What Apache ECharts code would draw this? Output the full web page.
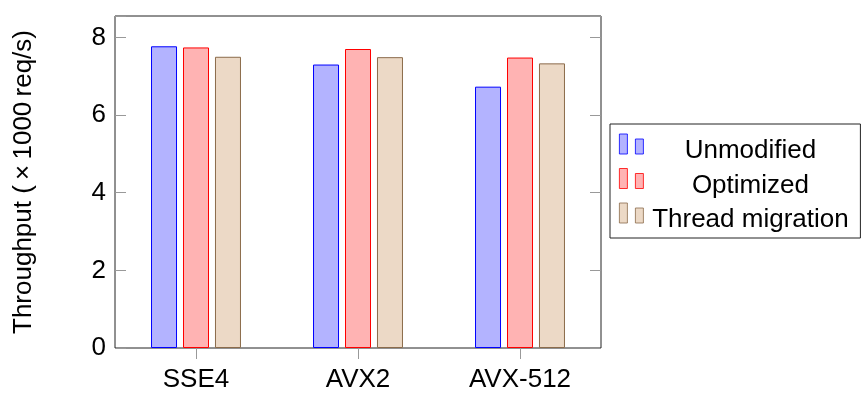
<!DOCTYPE html>
<html>
<head>
<meta charset="utf-8">
<script src="https://cdn.jsdelivr.net/npm/echarts@6/dist/echarts.min.js"></script>
<style>
html,body{margin:0;padding:0;background:#fff;}
#chart{width:862px;height:393px;}
</style>
</head>
<body>
<div id="chart"></div>
<script>
const categories = ['SSE4', 'AVX2', 'AVX-512'];
const seriesNames = ['Unmodified', 'Optimized', 'Thread migration'];
const unmodified = [7.77, 7.30, 6.73];
const optimized = [7.74, 7.70, 7.48];
const threadMigration = [7.50, 7.49, 7.33];
const yTicks = [0, 2, 4, 6, 8];

const FONT = 'Liberation Sans, Arial, Helvetica, sans-serif';
const FS = 26;

const fills = ['#b3b3ff', '#ffb3b3', '#ecd9c6'];
const strokes = ['#0000ff', '#ff0000', '#8b6b4b'];
const values = [unmodified, optimized, threadMigration];

const chart = echarts.init(document.getElementById('chart'), null, {renderer: 'canvas'});

const yAxisCommon = {
  type: 'value', min: 0, max: 8.55, interval: 2,
  splitLine: {show: false},
  axisLine: {show: false},
  axisTick: {show: true, inside: true, length: 11, lineStyle: {color: '#999', width: 1}}
};

const option = {
  animation: false,
  textStyle: {fontFamily: FONT},
  grid: {left: 115, right: 261, top: 16, bottom: 42, show: true, borderColor: '#222', borderWidth: 1, backgroundColor: 'transparent'},
  legend: {
    orient: 'vertical',
    left: 610, top: 124,
    padding: [0, 8, 5, 9],
    itemWidth: 24, itemHeight: 20, itemGap: -5.5,
    borderColor: '#222', borderWidth: 1,
    icon: 'path://M0,0h8v20h-8z M16,5h8v15h-8z',
    itemStyle: {borderWidth: 0.8},
    formatter: function (name) { return '{a|' + name + '}'; },
    textStyle: {
      fontFamily: FONT, fontSize: FS, color: '#000',
      rich: {a: {fontFamily: FONT, fontSize: FS, color: '#000', width: 204, align: 'center', lineHeight: 26, padding: [14, 0, 0, 0]}}
    },
    data: seriesNames
  },
  xAxis: [
    {
      type: 'category', data: categories, position: 'bottom',
      axisLine: {show: false},
      axisTick: {show: true, alignWithLabel: true, inside: false, length: 11, lineStyle: {color: '#999', width: 1}},
      axisLabel: {fontFamily: FONT, fontSize: FS, color: '#000', margin: 19}
    },
    {
      type: 'category', data: categories, position: 'top',
      axisLine: {show: false},
      axisTick: {show: true, alignWithLabel: true, inside: false, length: 11, lineStyle: {color: '#999', width: 1}},
      axisLabel: {show: false}
    }
  ],
  yAxis: [
    Object.assign({}, yAxisCommon, {
      position: 'left',
      name: 'Throughput (\u2009×\u20091000\u2009req/s)',
      nameLocation: 'middle', nameGap: 78,
      nameTextStyle: {fontFamily: FONT, fontSize: FS, color: '#000'},
      axisLabel: {
        fontFamily: FONT, fontSize: FS, color: '#000', margin: 9, showMaxLabel: true,
        formatter: function (v) { return yTicks.indexOf(v) >= 0 ? String(v) : ''; }
      }
    }),
    Object.assign({}, yAxisCommon, {position: 'right', axisLabel: {show: false}})
  ],
  series: seriesNames.map(function (name, i) {
    return {
      name: name, type: 'bar', xAxisIndex: 0, yAxisIndex: 0,
      data: values[i], barWidth: 26, barGap: '23%',
      itemStyle: {color: fills[i], borderColor: strokes[i], borderWidth: 1}
    };
  })
};
chart.setOption(option);
</script>
</body>
</html>
